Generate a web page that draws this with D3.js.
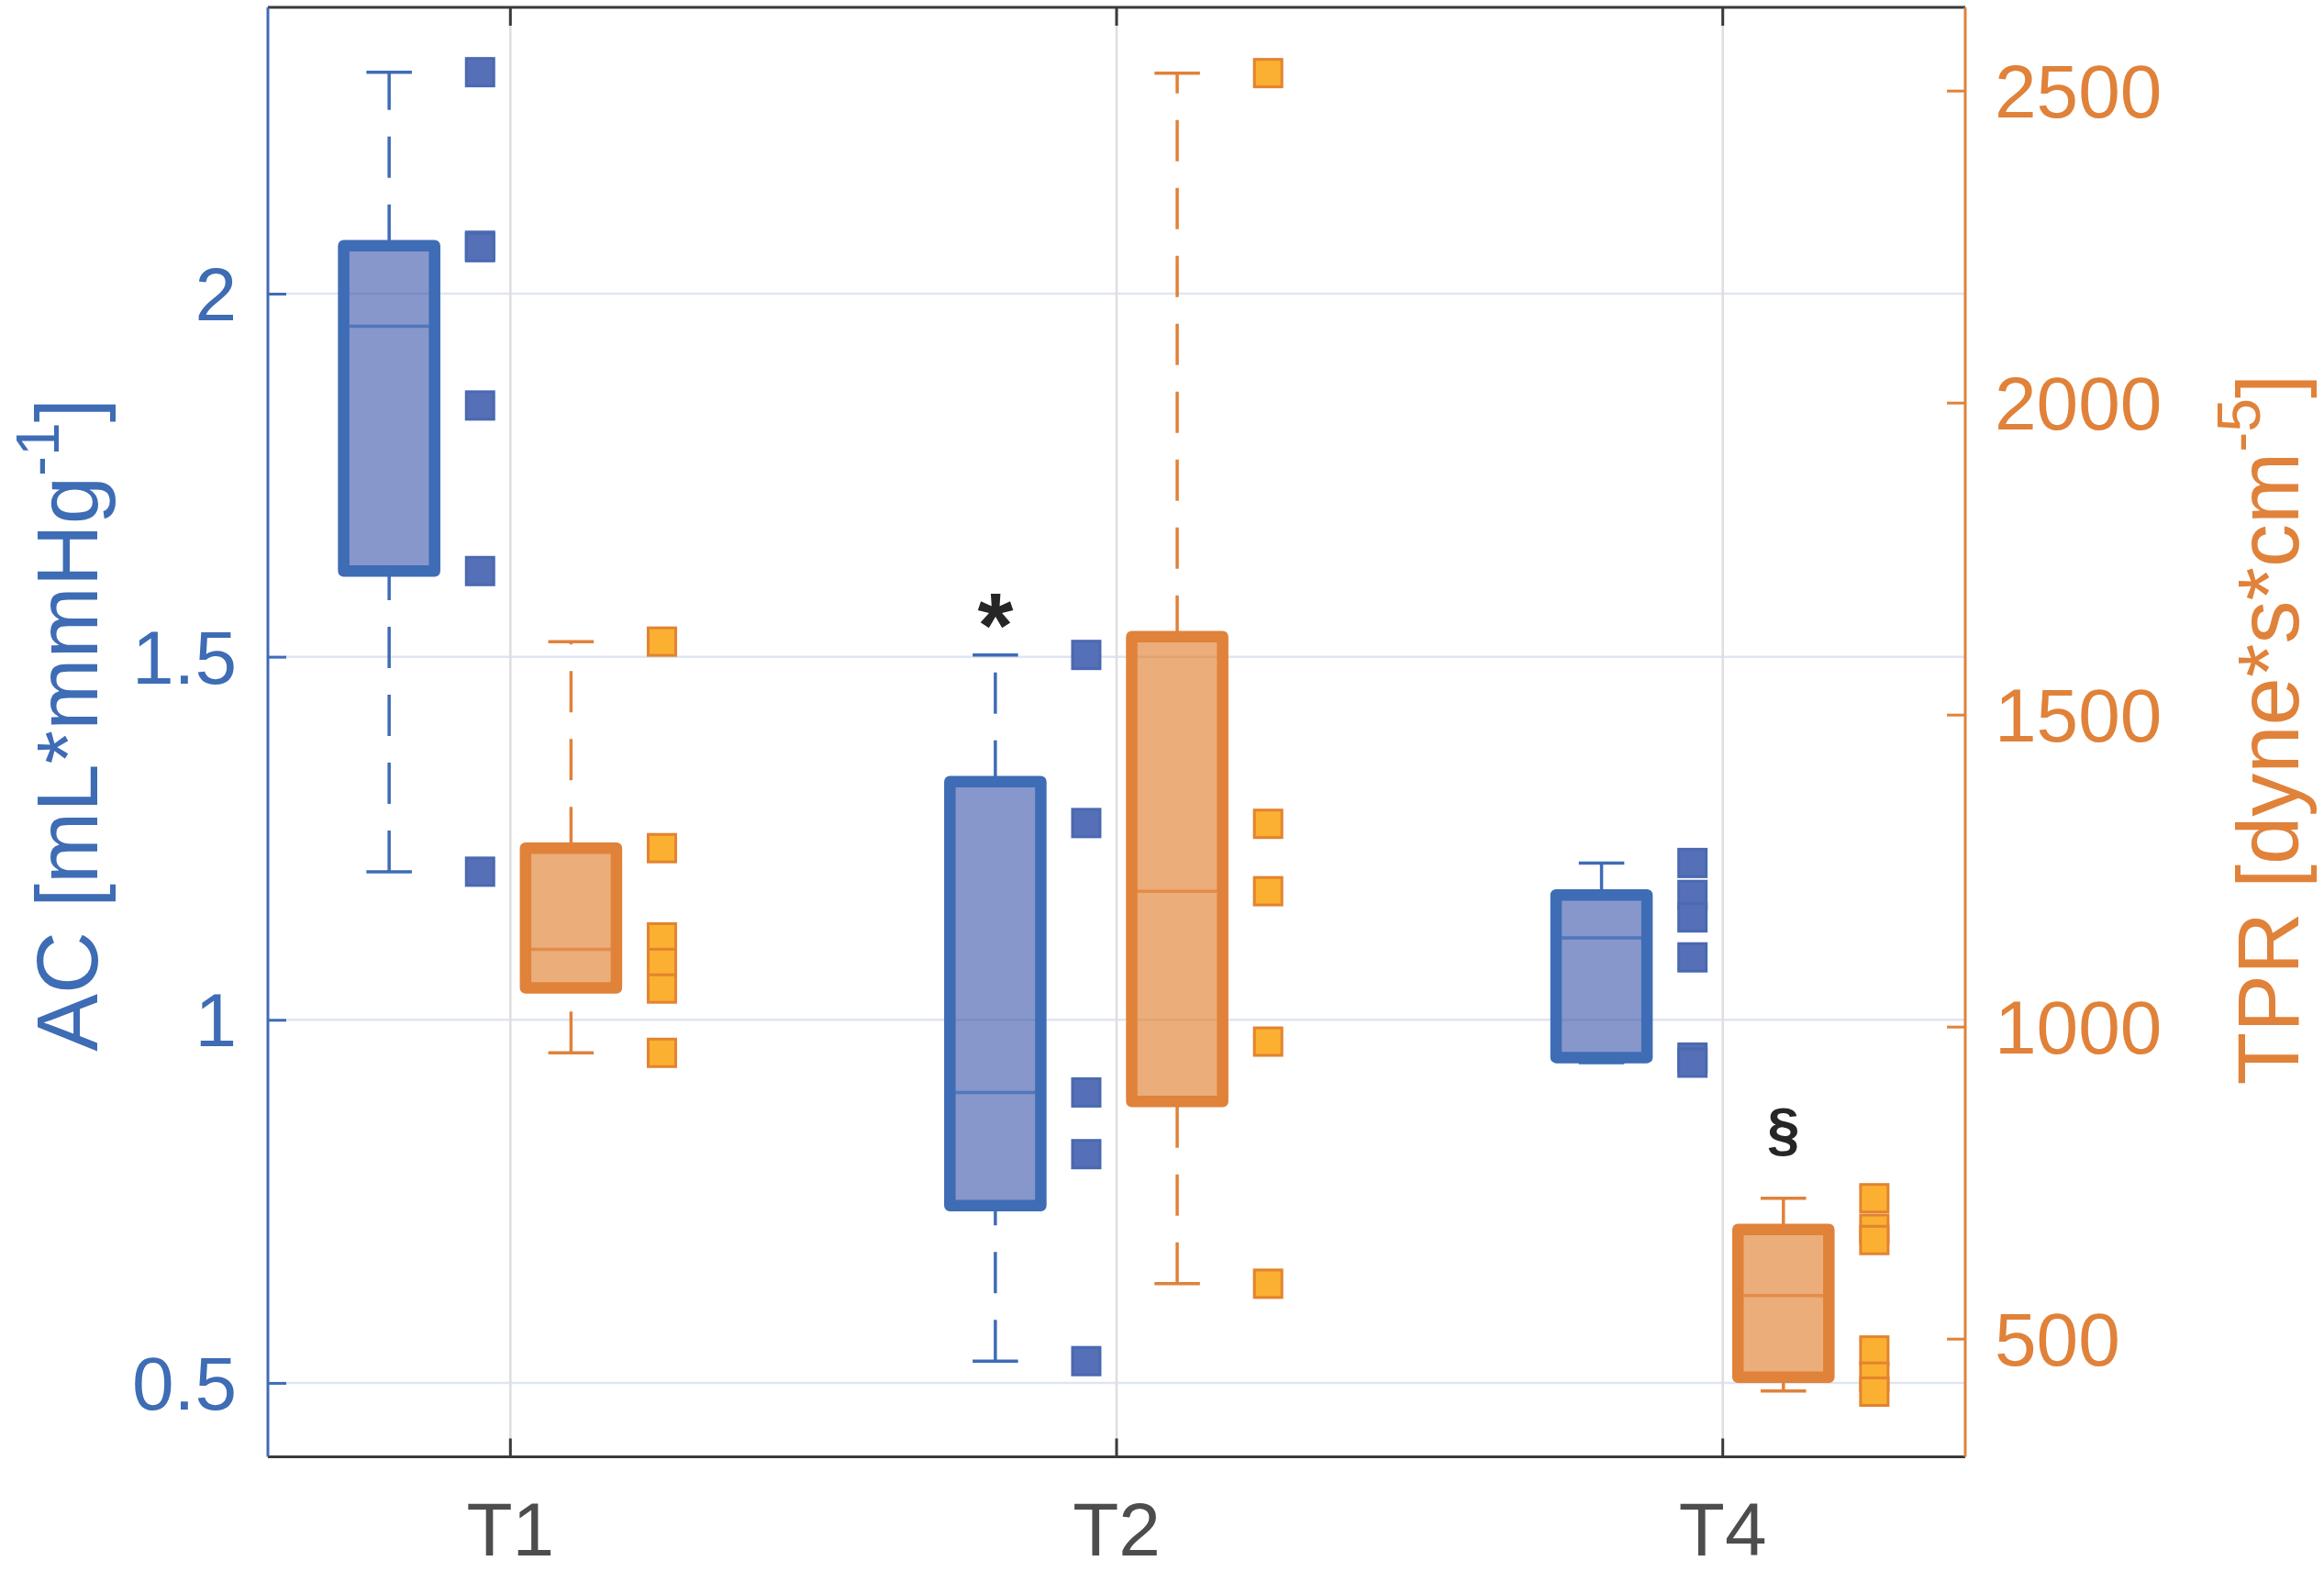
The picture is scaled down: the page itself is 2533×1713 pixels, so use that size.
<!DOCTYPE html>
<html>
<head>
<meta charset="utf-8">
<script src="https://cdn.jsdelivr.net/npm/d3@7"></script>
<style>
  body { margin: 0; background: #fff; }
  text { font-family: "Liberation Sans", Arial, Helvetica, sans-serif; }
</style>
</head>
<body>
<div id="chart"></div>
<script>
// Time points on the x axis
const groups = ["T1", "T2", "T4"];

// AC (left axis) box stats per group: [min, q1, median, q3, max]
const acStats = [
  [1.204, 1.618, 1.955, 2.066, 2.305],
  [0.530, 0.744, 0.900, 1.328, 1.5025],
  [0.941, 0.948, 1.113, 1.172, 1.216],
];
// AC individual values
const acPoints = [
  [2.305, 2.066, 2.064, 1.846, 1.618, 1.204],
  [1.5025, 1.271, 0.900, 0.815, 0.530],
  [1.216, 1.172, 1.141, 1.086, 0.948, 0.941],
];

// TPR (right axis) box stats per group: [min, q1, median, q3, max]
const tprStats = [
  [958, 1062, 1124, 1286, 1617],
  [588, 880, 1217, 1625, 2528],
  [416, 438, 569, 675, 725],
];
// TPR individual values
const tprPoints = [
  [1617, 1286, 1143, 1102, 1061, 958],
  [2528, 1325, 1217, 976, 588],
  [725, 676, 658, 481, 439, 415],
];

const acTicks = [0.5, 1, 1.5, 2];
const acTickLabels = ["0.5", "1", "1.5", "2"];
const tprTicks = [500, 1000, 1500, 2000, 2500];
const tprTickLabels = ["500", "1000", "1500", "2000", "2500"];

// significance marks: group index, axis, value of the text baseline
const marks = [
  { text: "*", group: 1, axis: "ac", value: 1.50 },
  { text: "§", group: 2, axis: "tpr", value: 803 },
];

const W = 2533, H = 1713;
const plot = { left: 292, right: 2142, top: 8, bottom: 1587.5 };

const blue = "#3e6cb5";
const orange = "#e0823a";
const axisGray = "#3a3a3a";

const svg = d3.select("#chart").append("svg")
  .attr("width", W).attr("height", H);

const x = d3.scaleLinear().domain([0.6, 3.4]).range([plot.left, plot.right]);
const yAC = d3.scaleLinear().domain([0.3982, 2.3943]).range([plot.bottom, plot.top]);
const yTPR = d3.scaleLinear().domain([310.6, 2633.4]).range([plot.bottom, plot.top]);

const unit = x(2) - x(1);
const boxW = 0.15 * unit;
const capW = 0.075 * unit;
const markSize = 30;

// grid
svg.append("g").selectAll("line").data(acTicks).join("line")
  .attr("x1", plot.left).attr("x2", plot.right)
  .attr("y1", d => yAC(d)).attr("y2", d => yAC(d))
  .attr("stroke", "#dfe5f2").attr("stroke-width", 2.5);
svg.append("g").selectAll("line").data(groups).join("line")
  .attr("x1", (d, i) => x(i + 1)).attr("x2", (d, i) => x(i + 1))
  .attr("y1", plot.top).attr("y2", plot.bottom)
  .attr("stroke", "#dedede").attr("stroke-width", 2.5);

function drawSeries(stats, points, y, offset, pointOffset, col, fill, ptFill, ptEdge) {
  const g = svg.append("g");
  stats.forEach((s, i) => {
    const cx = x(i + 1 + offset);
    const [mn, q1, med, q3, mx] = s;
    // whiskers, drawn from the lower value up so the dash starts there
    [[q3, mx], [mn, q1]].forEach(([a, b]) => {
      g.append("line")
        .attr("x1", cx).attr("x2", cx)
        .attr("y1", y(a)).attr("y2", y(b))
        .attr("stroke", col).attr("stroke-width", 3.5)
        .attr("stroke-dasharray", "45,29");
    });
    [mn, mx].forEach(v => {
      g.append("line")
        .attr("x1", cx - capW / 2).attr("x2", cx + capW / 2)
        .attr("y1", y(v)).attr("y2", y(v))
        .attr("stroke", col).attr("stroke-width", 3.5);
    });
    g.append("rect")
      .attr("x", cx - boxW / 2).attr("width", boxW)
      .attr("y", y(q3)).attr("height", y(q1) - y(q3))
      .attr("fill", fill).attr("fill-opacity", 0.6)
      .attr("stroke", col).attr("stroke-width", 12.5)
      .attr("stroke-linejoin", "round");
    g.append("line")
      .attr("x1", cx - boxW / 2 + 6).attr("x2", cx + boxW / 2 - 6)
      .attr("y1", y(med)).attr("y2", y(med))
      .attr("stroke", col).attr("stroke-opacity", 0.75).attr("stroke-width", 3.5);
  });
  points.forEach((pts, i) => {
    g.selectAll(null).data(pts).join("rect")
      .attr("x", x(i + 1 + pointOffset) - markSize / 2)
      .attr("y", d => y(d) - markSize / 2)
      .attr("width", markSize).attr("height", markSize)
      .attr("fill", ptFill).attr("stroke", ptEdge).attr("stroke-width", 3);
  });
}

drawSeries(acStats, acPoints, yAC, -0.2, -0.05, blue, "#3752a8", "#5570b6", "#4a69b1");
drawSeries(tprStats, tprPoints, yTPR, 0.1, 0.25, orange, "#de7620", "#fbb032", "#e3832f");

// significance marks
svg.append("g").selectAll("text").data(marks).join("text")
  .attr("x", d => x(d.group + 1 + (d.axis === "ac" ? -0.2 : 0.1)))
  .attr("y", d => (d.axis === "ac" ? yAC : yTPR)(d.value))
  .attr("text-anchor", "middle")
  .attr("font-size", d => d.text === "*" ? 100 : 64).attr("font-weight", "bold")
  .attr("fill", "#262626")
  .text(d => d.text);

// axes frame
const frame = svg.append("g").attr("stroke-width", 3);
frame.append("line").attr("x1", plot.left).attr("x2", plot.right)
  .attr("y1", plot.top).attr("y2", plot.top).attr("stroke", axisGray);
frame.append("line").attr("x1", plot.left).attr("x2", plot.right)
  .attr("y1", plot.bottom).attr("y2", plot.bottom).attr("stroke", axisGray);

// x ticks (top and bottom, inward)
const tickLen = 20;
groups.forEach((gname, i) => {
  [[plot.bottom, plot.bottom - tickLen], [plot.top, plot.top + tickLen]].forEach(([a, b]) => {
    svg.append("line").attr("x1", x(i + 1)).attr("x2", x(i + 1))
      .attr("y1", a).attr("y2", b)
      .attr("stroke", axisGray).attr("stroke-width", 3);
  });
});
svg.append("g").selectAll("text").data(groups).join("text")
  .attr("x", (d, i) => x(i + 1)).attr("y", 1695)
  .attr("text-anchor", "middle").attr("font-size", 82)
  .attr("fill", "#4d4d4d").text(d => d);

// left axis
const left = svg.append("g").attr("transform", `translate(${plot.left},0)`)
  .call(d3.axisRight(yAC).tickValues(acTicks).tickSize(tickLen).tickFormat(""));
left.select(".domain").remove();
left.selectAll(".tick line").attr("stroke", blue).attr("stroke-width", 3);
svg.append("line").attr("x1", plot.left).attr("x2", plot.left)
  .attr("y1", plot.top).attr("y2", plot.bottom)
  .attr("stroke", blue).attr("stroke-width", 3);
svg.append("g").selectAll("text").data(acTicks).join("text")
  .attr("x", 258).attr("y", d => yAC(d) + 29)
  .attr("text-anchor", "end").attr("font-size", 82)
  .attr("fill", blue).text((d, i) => acTickLabels[i]);

// right axis
const right = svg.append("g").attr("transform", `translate(${plot.right},0)`)
  .call(d3.axisLeft(yTPR).tickValues(tprTicks).tickSize(tickLen).tickFormat(""));
right.select(".domain").remove();
right.selectAll(".tick line").attr("stroke", orange).attr("stroke-width", 3);
svg.append("line").attr("x1", plot.right).attr("x2", plot.right)
  .attr("y1", plot.top).attr("y2", plot.bottom)
  .attr("stroke", orange).attr("stroke-width", 3);
svg.append("g").selectAll("text").data(tprTicks).join("text")
  .attr("x", 2174).attr("y", d => yTPR(d) + 29)
  .attr("text-anchor", "start").attr("font-size", 82)
  .attr("fill", orange).text((d, i) => tprTickLabels[i]);

// axis titles
function axisTitle(tx, ty, main, sup, col) {
  const t = svg.append("text")
    .attr("transform", `translate(${tx},${ty}) rotate(-90)`)
    .attr("text-anchor", "middle").attr("font-size", 94).attr("fill", col);
  t.append("tspan").text(main);
  t.append("tspan").attr("font-size", 66).attr("dy", -42).text(sup);
  t.append("tspan").attr("dy", 42).text("]");
}
axisTitle(106, 790, "AC [mL*mmHg", "-1", blue);
axisTitle(2505, 795, "TPR [dyne*s*cm", "-5", orange);
</script>
</body>
</html>
